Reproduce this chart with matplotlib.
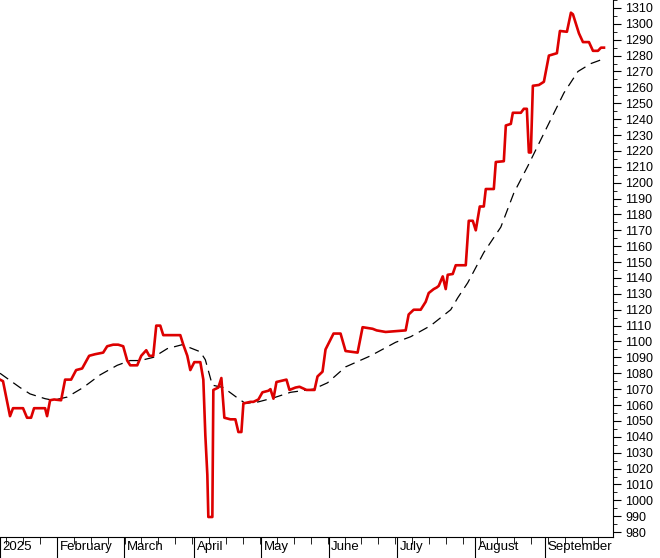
import numpy as np
import matplotlib
matplotlib.use('Agg')
import matplotlib.pyplot as plt
from matplotlib.ticker import MultipleLocator

plt.rcParams['font.family'] = ['Liberation Sans', 'DejaVu Sans']

# time axis in chart units (trading-day positions, ~3.3 units per day)
price_t = [0, 3, 10, 13, 23, 27, 31, 34, 45, 47, 50, 54, 61, 65, 71, 76, 82, 89, 95, 103,
           107, 113, 118, 123, 127, 130, 137, 141, 146, 149, 153, 156, 160, 163, 180, 183,
           187, 190, 194, 200, 203, 205, 207, 208, 212, 213, 218, 221, 224, 230, 235, 238,
           241, 243, 250, 253, 258, 262, 268, 270, 273, 276, 286, 289, 295, 299, 306, 314,
           317, 322, 325, 333, 340, 345, 357, 362, 372, 376, 385, 405, 408, 413, 420, 425,
           428, 433, 436, 438, 442, 445, 447, 452, 455, 465, 468, 472, 475, 479, 483, 485,
           493, 495, 503, 505, 510, 512, 520, 523, 526, 528, 530, 532, 538, 543, 548, 556,
           559, 566, 570, 572, 578, 582, 588, 592, 597, 600, 603]
price = [1076, 1075, 1053, 1058, 1058, 1052, 1052, 1058, 1058, 1053, 1063, 1063.5, 1063, 1076,
         1076, 1082, 1083, 1091, 1092, 1093, 1097, 1098, 1098, 1097, 1088, 1085, 1085, 1091,
         1094.5, 1091, 1091, 1110, 1110, 1104, 1104, 1098, 1091, 1082, 1087, 1087, 1076, 1041,
         1016, 989.5, 989.5, 1069.5, 1071, 1077, 1052, 1051, 1051, 1043, 1043, 1061, 1062, 1062,
         1063.5, 1068, 1069, 1070, 1064, 1074.5, 1076, 1069.5, 1071, 1071.5, 1069.5, 1069.5,
         1078, 1081, 1095, 1105, 1105, 1094, 1093, 1109, 1108, 1107, 1106, 1107, 1117, 1120,
         1120, 1125, 1130.5, 1133, 1134, 1135, 1141, 1133, 1142, 1142.5, 1148, 1148, 1176,
         1176, 1170, 1185, 1185, 1196, 1196, 1213, 1213.5, 1236, 1237, 1244, 1244, 1246.5,
         1246.5, 1219, 1219, 1261, 1261.5, 1263.5, 1280, 1281.5, 1295.5, 1295, 1307, 1306,
         1294, 1288.5, 1288.5, 1283, 1283, 1285, 1285]

ma_t = [0, 20, 30, 45, 53, 67, 83, 100, 117, 130, 140, 153, 167, 182, 192, 200, 205, 212,
        223, 237, 245, 258, 273, 290, 313, 327, 345, 370, 395, 410, 430, 450, 457, 467, 483,
        500, 513, 527, 543, 563, 577, 590, 603]
ma = [1080, 1071, 1067, 1064, 1063, 1065, 1071, 1079, 1085, 1088, 1088, 1090, 1095.5, 1098,
      1095.5, 1093.5, 1088.5, 1072.5, 1071, 1064.5, 1061, 1062, 1064.5, 1068, 1070, 1074,
      1084, 1091, 1099.5, 1103, 1110, 1120, 1127.5, 1137, 1156, 1172, 1193.5, 1210.5, 1231,
      1256.5, 1270, 1275, 1278]

month_t = [0, 57, 124, 194, 261, 328, 396, 474, 544]
month_labels = ['2025', 'February', 'March', 'April', 'May', 'June', 'July', 'August', 'September']

fig = plt.figure(figsize=(6.6, 5.58), dpi=100, facecolor='white')
ax = fig.add_axes([0, 0.0376, 613 / 660, 0.9624])
ax.plot(ma_t, ma, color='black', lw=0.9, dashes=(8, 5))
ax.plot(price_t, price, color='#dd0000', lw=1.9)

ax.set_xlim(0, 612)
ax.set_ylim(976.9, 1315)
for s in ['top', 'left']:
    ax.spines[s].set_visible(False)
ax.yaxis.tick_right()
ax.yaxis.set_minor_locator(MultipleLocator(5))
ax.set_yticks(np.arange(980, 1311, 10))
ax.tick_params(axis='y', which='major', length=6, labelsize=9, pad=3)
ax.tick_params(axis='y', which='minor', length=3)

ax.set_xticks(month_t)
ax.set_xticklabels([])
ax.set_xticks(np.arange(6, 612, 16.9), minor=True)
ax.tick_params(axis='x', which='major', length=21, direction='out')
ax.tick_params(axis='x', which='minor', length=5, direction='out')
for t, lab in zip(month_t, month_labels):
    ax.annotate(lab, xy=(t, 0), xycoords=('data', 'axes fraction'), xytext=(2, -3),
                textcoords='offset points', ha='left', va='top', fontsize=9.5)

fig.savefig('out.png', dpi=100, facecolor='white')
